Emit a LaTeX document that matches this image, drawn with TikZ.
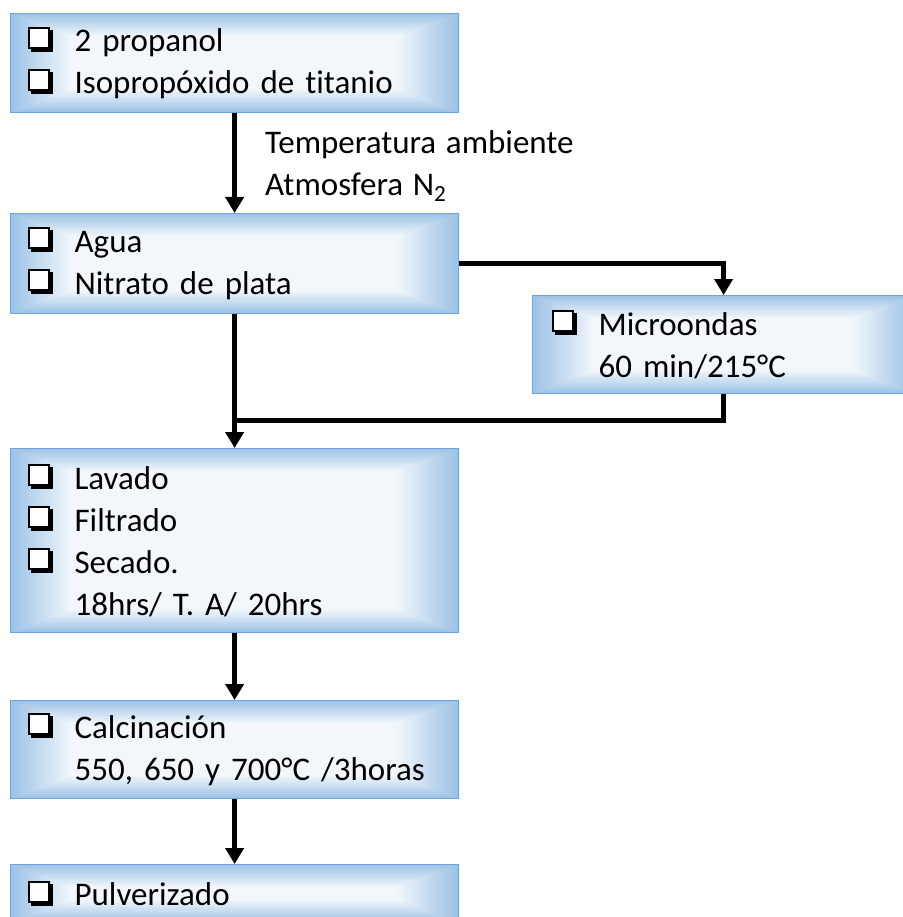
\documentclass[tikz,border=0pt]{standalone}
\usepackage{fontspec}
\setmainfont{Carlito}[Ligatures=NoCommon, WordSpace={1.3,1,1}]
\usetikzlibrary{arrows.meta,calc}
\definecolor{boxedge}{HTML}{9DC3E6}
\definecolor{boxmid}{HTML}{F7FAFD}
\definecolor{boxborder}{HTML}{6FA3DA}
\newcommand\chk{\tikz[baseline=0pt,x=1pt,y=1pt]{\fill[black] (3,0) rectangle (25,22);\draw[line width=2pt,draw=black,fill=white] (1,4) rectangle (21,24);}}
\newcommand\chkline[1]{\makebox[47pt][l]{\chk}#1}
\newcommand\indline[1]{\hspace*{47pt}#1}
\tikzset{
  gbox/.style={rectangle, anchor=north west, draw=boxborder, line width=1.2pt,
    inner xsep=17pt, inner ysep=0pt, align=left,
    font=\fontsize{33}{42}\selectfont,
    path picture={
      \foreach \i in {0,...,19}{
        \pgfmathsetmacro\pc{100-5*\i}
        \fill[boxedge!\pc!boxmid] ([xshift=\i*3.2pt,yshift=\i*1.2pt]path picture bounding box.south west) rectangle ([xshift=-\i*3.2pt,yshift=-\i*1.2pt]path picture bounding box.north east);
      }
    }},
  flow/.style={line width=5pt, -{Triangle[width=18pt,length=16pt]}},
  plain/.style={line width=5pt}
}
\begin{document}
\begin{tikzpicture}[x=1pt,y=-1pt]
\useasboundingbox (0,0) rectangle (902,917);
\node[gbox, minimum width=448pt, minimum height=99pt, text width=414pt] (b1) at (10,13)
  {\chkline{2 propanol}\\\chkline{Isopropóxido de titanio}};
\node[gbox, minimum width=448pt, minimum height=100pt, text width=414pt] (b2) at (10,213)
  {\chkline{Agua}\\\chkline{Nitrato de plata}};
\node[gbox, minimum width=382pt, minimum height=98pt, text width=344pt, inner xsep=19pt] (b3) at (532,295)
  {\chkline{Microondas}\\\indline{60 min/215°C}};
\node[gbox, minimum width=448pt, minimum height=184pt, text width=414pt] (b4) at (10,448)
  {\chkline{Lavado}\\\chkline{Filtrado}\\\chkline{Secado.}\\\indline{18hrs/ T. A/ 20hrs}};
\node[gbox, minimum width=448pt, minimum height=98pt, text width=414pt] (b5) at (10,700)
  {\chkline{Calcinación}\\\indline{550, 650 y 700°C /3horas}};
\node[gbox, minimum width=448pt, minimum height=58pt, text width=414pt] (b6) at (10,864)
  {\chkline{Pulverizado}};
\node[anchor=west, inner sep=0pt, align=left, font=\fontsize{33}{42}\selectfont] (lbl) at (265,166)
  {Temperatura ambiente\\Atmosfera N\textsubscript{2}};
\coordinate (j) at (b2.south |- 0,420);
\draw[flow] (b1.south) -- (b2.north);
\draw[flow] (b2.east) -| (b3.north);
\draw[flow] (b2.south) -- (b4.north);
\draw[plain] (b3.south) |- (j);
\draw[flow] (b4.south) -- (b5.north);
\draw[flow] (b5.south) -- (b6.north);
\end{tikzpicture}
\end{document}
